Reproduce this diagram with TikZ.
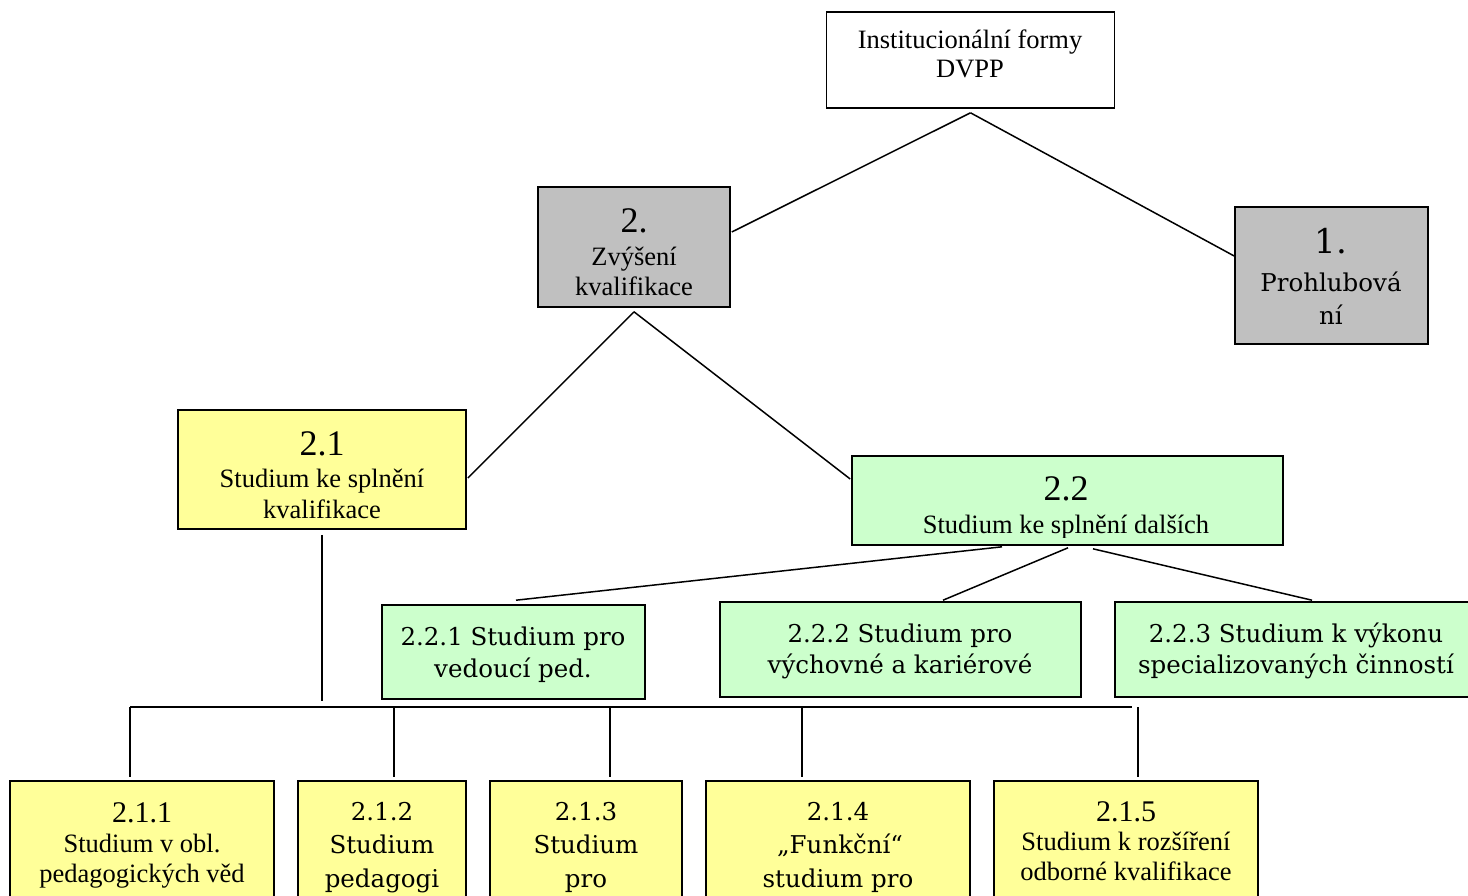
\documentclass[tikz,border=0pt]{standalone}
\usepackage{fontspec}
\setmainfont{Liberation Serif}
\newfontfamily\camfont{DejaVu Serif}
\usetikzlibrary{calc}
\definecolor{boxgray}{HTML}{C0C0C0}
\definecolor{boxyellow}{HTML}{FFFF99}
\definecolor{boxgreen}{HTML}{CCFFCC}
\newcommand\fsT{\fontsize{26.5}{31}\selectfont}
\newcommand\fsTbig{\fontsize{36}{40}\selectfont}
\newcommand\fsTmid{\fontsize{30}{34}\selectfont}
\newcommand\fsC{\camfont\fontsize{24.5}{30}\selectfont}
\newcommand\fsCbig{\camfont\fontsize{34}{38}\selectfont}
\begin{document}
\begin{tikzpicture}[x=1pt,y=-1pt,
  box/.style={draw=black,line width=1.6pt,rectangle,inner sep=0pt},
  graybox/.style={box,fill=boxgray},
  yellowbox/.style={box,fill=boxyellow},
  greenbox/.style={box,fill=boxgreen},
  txt/.style={inner sep=0pt,anchor=base},
  conn/.style={line width=1.5pt,black}]
\useasboundingbox (0,0) rectangle (1468,895);
\clip (0,0) rectangle (1468,895);
\fill[white] (0,0) rectangle (1468,895);

% boxes
\node[box,fill=white,minimum width=288pt,minimum height=96pt] (top) at (970.5,60) {};
\node[graybox,minimum width=192pt,minimum height=120pt] (b2) at (634,247) {};
\node[graybox,minimum width=193pt,minimum height=137pt] (b1) at (1331.5,275.5) {};
\node[yellowbox,minimum width=288pt,minimum height=119pt] (b21) at (322,469.5) {};
\node[greenbox,minimum width=431pt,minimum height=89pt] (b22) at (1067.5,500.5) {};
\node[greenbox,minimum width=263pt,minimum height=94pt] (b221) at (513.5,652) {};
\node[greenbox,minimum width=361pt,minimum height=95pt] (b222) at (900.5,649.5) {};
\node[greenbox,minimum width=363pt,minimum height=95pt] (b223) at (1296.5,649.5) {};
\node[yellowbox,minimum width=264pt,minimum height=129pt] (b211) at (142,845.5) {};
\node[yellowbox,minimum width=168pt,minimum height=129pt] (b212) at (382,845.5) {};
\node[yellowbox,minimum width=192pt,minimum height=129pt] (b213) at (586,845.5) {};
\node[yellowbox,minimum width=264pt,minimum height=129pt] (b214) at (838,845.5) {};
\node[yellowbox,minimum width=264pt,minimum height=129pt] (b215) at (1126,845.5) {};

% texts
\node[txt,font=\fsT] (t0a) at (970,48) {Institucionální formy};
\node[txt,font=\fsT] (t0b) at (970,77) {DVPP};

\node[txt,font=\fsTbig] (t2a) at (634,232) {2.};
\node[txt,font=\fsT] (t2b) at (634,265) {Zvýšení};
\node[txt,font=\fsT] (t2c) at (634,295) {kvalifikace};

\node[txt,font=\fsCbig] (t1a) at (1331,253) {1.};
\node[txt,font=\fsC] (t1b) at (1331,291) {Prohlubová};
\node[txt,font=\fsC] (t1c) at (1331,324) {ní};

\node[txt,font=\fsTbig] (t21a) at (322,455) {2.1};
\node[txt,font=\fsT] (t21b) at (322,487) {Studium ke splnění};
\node[txt,font=\fsT] (t21c) at (322,518) {kvalifikace};

\begin{scope}
\clip (852,456) rectangle (1283,537);
\node[txt,font=\fsTbig] (t22a) at (1066,500) {2.2};
\node[txt,font=\fsT] (t22b) at (1066,533) {Studium ke splnění dalších};
\end{scope}

\node[txt,font=\fsC] (t221a) at (513,645) {2.2.1 Studium pro};
\node[txt,font=\fsC] (t221b) at (513,677) {vedoucí ped.};
\node[txt,font=\fsC] (t222a) at (900,642) {2.2.2 Studium pro};
\node[txt,font=\fsC] (t222b) at (900,673) {výchovné a kariérové};
\node[txt,font=\fsC] (t223a) at (1296,642) {2.2.3 Studium k výkonu};
\node[txt,font=\fsC] (t223b) at (1296,673) {specializovaných činností};

\node[txt,font=\fsTmid] (t211a) at (142,822) {2.1.1};
\node[txt,font=\fsT] (t211b) at (142,852) {Studium v obl.};
\node[txt,font=\fsT] (t211c) at (142,882) {pedagogických věd};

\node[txt,font=\fsC] (t212a) at (382,820) {2.1.2};
\node[txt,font=\fsC] (t212b) at (382,853) {Studium};
\node[txt,font=\fsC] (t212c) at (382,887) {pedagogi};

\node[txt,font=\fsC] (t213a) at (586,820) {2.1.3};
\node[txt,font=\fsC] (t213b) at (586,853) {Studium};
\node[txt,font=\fsC] (t213c) at (586,887) {pro};

\node[txt,font=\fsC] (t214a) at (838,820) {2.1.4};
\node[txt,font=\fsC] (t214b) at (840,853) {„Funkční“};
\node[txt,font=\fsC] (t214c) at (838,887) {studium pro};

\node[txt,font=\fsTmid] (t215a) at (1126,821) {2.1.5};
\node[txt,font=\fsT] (t215b) at (1126,850) {Studium k rozšíření};
\node[txt,font=\fsT] (t215c) at (1126,880) {odborné kvalifikace};

% connectors
\draw[conn] ($(top.south)+(0,4)$) -- ($(b2.east)+(1,-15)$);
\draw[conn] ($(top.south)+(0,4)$) -- ($(b1.west)+(0,-19.5)$);
\draw[conn] ($(b2.south)+(0,4)$) -- ($(b21.east)+(1,8.5)$);
\draw[conn] ($(b2.south)+(0,4)$) -- ($(b22.west)+(-1,-21.5)$);

\coordinate (stem) at (322,701);
\draw[conn] ($(b21.south)+(0,5)$) -- (stem);

\coordinate (busL) at (130,707);
\coordinate (busR) at (1132,707);
\coordinate (bus2) at (394,707);
\coordinate (bus3) at (610,707);
\coordinate (bus4) at (802,707);
\coordinate (bus5) at (1138,707);
\draw[conn] (busL) -- (busR);
\draw[conn] (busL) -- ($(busL |- b211.north)+(0,-3)$);
\draw[conn] (bus2) -- ($(bus2 |- b212.north)+(0,-3)$);
\draw[conn] (bus3) -- ($(bus3 |- b213.north)+(0,-3)$);
\draw[conn] (bus4) -- ($(bus4 |- b214.north)+(0,-3)$);
\draw[conn] (bus5) -- ($(bus5 |- b215.north)+(0,-3)$);

\draw[conn] ($(b22.south)+(-65.5,1)$) -- ($(b221.north)+(2.5,-4)$);
\draw[conn] ($(b22.south)+(0.5,2)$) -- ($(b222.north)+(42.5,-1)$);
\draw[conn] ($(b22.south)+(25.5,3)$) -- ($(b223.north)+(15.5,-1)$);
\end{tikzpicture}
\end{document}
